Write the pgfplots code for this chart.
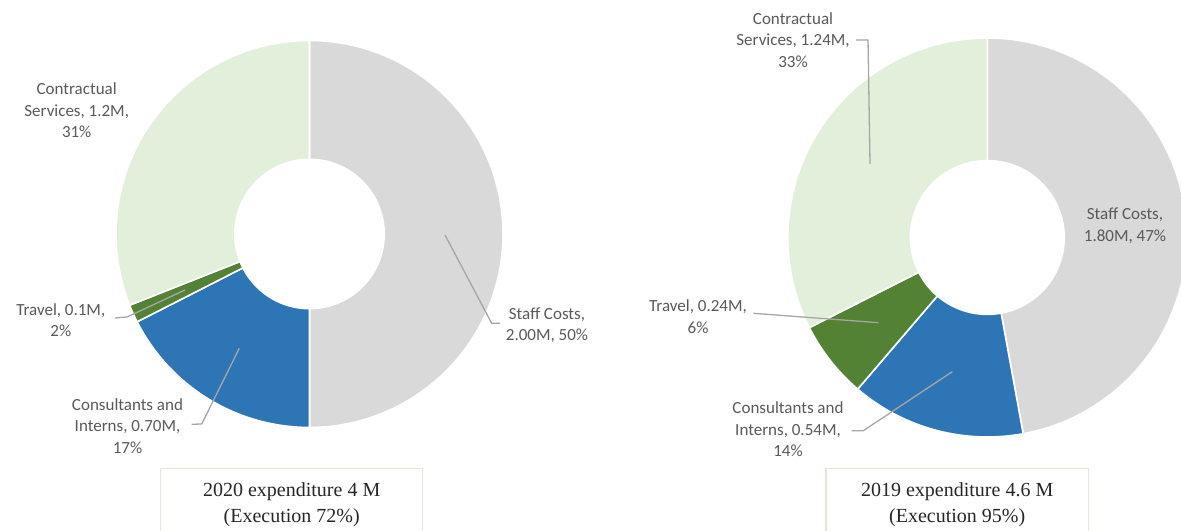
\documentclass[border=0pt]{standalone}
\usepackage{pgfplots}
\pgfplotsset{compat=1.18}
\usepackage{fontspec}
\setmainfont{Carlito}
\newfontfamily\boxfont{Liberation Serif}
\definecolor{cStaff}{HTML}{D9D9D9}
\definecolor{cCons}{HTML}{2E75B6}
\definecolor{cTravel}{HTML}{548235}
\definecolor{cContr}{HTML}{E2EFDA}
\definecolor{cLabel}{HTML}{595959}
\definecolor{cLeader}{HTML}{A6A6A6}
\definecolor{cBox}{HTML}{DCEBD2}
\definecolor{cBoxText}{HTML}{262626}

% #1 outer radius, #2 total, #3 cumulative value before slice, #4 value, #5 colour
\newcommand{\slice}[5]{%
  \pgfmathsetmacro\aS{90-360*(#3)/(#2)}%
  \pgfmathsetmacro\aE{90-360*((#3)+(#4))/(#2)}%
  \edef\doslice{\noexpand\addplot[fill=#5, draw=white, line width=1.6bp, line join=round,
     domain=\aE:\aS, samples=120, variable=\noexpand\t]
     ({#1*cos(\noexpand\t)},{#1*sin(\noexpand\t)}) -- (axis cs:0,0) -- cycle;}%
  \doslice
}
\newcommand{\hole}[1]{%
  \addplot[fill=white, draw=none, domain=0:360, samples=160, variable=\t]
     ({#1*cos(\t)},{#1*sin(\t)}) -- cycle;
}
\pgfplotsset{donut/.style={hide axis, scale only axis, width=420bp, height=420bp,
   xmin=-210, xmax=210, ymin=-210, ymax=210, clip=false, anchor=center},
   leader/.style={color=cLeader, line width=1.3bp, mark=none}}
\tikzset{lbl/.style={font=\fontsize{17bp}{21.5bp}\selectfont, text=cLabel, align=center, inner sep=0pt}}

\begin{document}
\begin{tikzpicture}[x=1bp,y=1bp]
\useasboundingbox (0,0) rectangle (1181,531);
\clip (0,0) rectangle (1181,531);

% ---------- 2020 ----------
\begin{axis}[donut, at={(309.5bp,297bp)}]
  % total 4.00: Staff 2.00, Consultants 0.70, Travel 0.06, Contractual 1.24
  \slice{193.5}{4.00}{0}{2.00}{cStaff}
  \slice{193.5}{4.00}{2.00}{0.70}{cCons}
  \slice{193.5}{4.00}{2.70}{0.06}{cTravel}
  \slice{193.5}{4.00}{2.76}{1.24}{cContr}
  \hole{75.5}
  \addplot[leader] coordinates {(135.5,-1) (182.2,-89.3) (190.5,-89.3)};
  \addplot[leader] coordinates {(-194.5,-84) (-182.5,-83) (-124.5,-56)};
  \addplot[leader] coordinates {(-117.8,-190.3) (-107.8,-190) (-70.2,-114.3)};
  \node[lbl] at (axis cs:-232.8,123.5) {Contractual\\Services, 1.2M,\\31\%};
  \node[lbl] at (axis cs:-248.7,-86) {Travel, 0.1M,\\2\%};
  \node[lbl] at (axis cs:-182,-191.7) {Consultants and\\Interns, 0.70M,\\17\%};
  \node[lbl] at (axis cs:237.5,-91) {Staff Costs,\\2.00M, 50\%};
\end{axis}

% ---------- 2019 ----------
\begin{axis}[donut, at={(987.3bp,293.5bp)}]
  % total 3.82: Staff 1.80, Consultants 0.54, Travel 0.24, Contractual 1.24
  \slice{199.5}{3.82}{0}{1.80}{cStaff}
  \slice{199.5}{3.82}{1.80}{0.54}{cCons}
  \slice{199.5}{3.82}{2.34}{0.24}{cTravel}
  \slice{199.5}{3.82}{2.58}{1.24}{cContr}
  \hole{77.7}
  \addplot[leader] coordinates {(-131.3,197.5) (-119.3,197.5) (-117.3,73.5)};
  \addplot[leader] coordinates {(-234,-75.8) (-109,-85.2)};
  \addplot[leader] coordinates {(-135.6,-193.2) (-124,-193.2) (-35,-134.2)};
  \node[lbl] at (axis cs:-194.3,197.5) {Contractual\\Services, 1.24M,\\33\%};
  \node[lbl] at (axis cs:-289.3,-79.2) {Travel, 0.24M,\\6\%};
  \node[lbl] at (axis cs:-199.3,-191.8) {Consultants and\\Interns, 0.54M,\\14\%};
  \node[lbl] at (axis cs:137.7,12) {Staff Costs,\\1.80M, 47\%};
\end{axis}

% ---------- caption boxes ----------
\draw[cBox, line width=1.5bp] (160.7,-10) rectangle (422.7,62.7);
\draw[cBox, line width=1.5bp] (826,-10) rectangle (1088.3,62.7);
\node[anchor=base, inner sep=0pt, text=cBoxText, font=\boxfont\fontsize{20bp}{24bp}\selectfont] at (291.7,34.3) {2020 expenditure 4 M};
\node[anchor=base, inner sep=0pt, text=cBoxText, font=\boxfont\fontsize{20bp}{24bp}\selectfont] at (291.7,8.3) {(Execution 72\%)};
\node[anchor=base, inner sep=0pt, text=cBoxText, font=\boxfont\fontsize{20bp}{24bp}\selectfont] at (957.2,34.3) {2019 expenditure 4.6 M};
\node[anchor=base, inner sep=0pt, text=cBoxText, font=\boxfont\fontsize{20bp}{24bp}\selectfont] at (957.2,8.3) {(Execution 95\%)};
\end{tikzpicture}
\end{document}
